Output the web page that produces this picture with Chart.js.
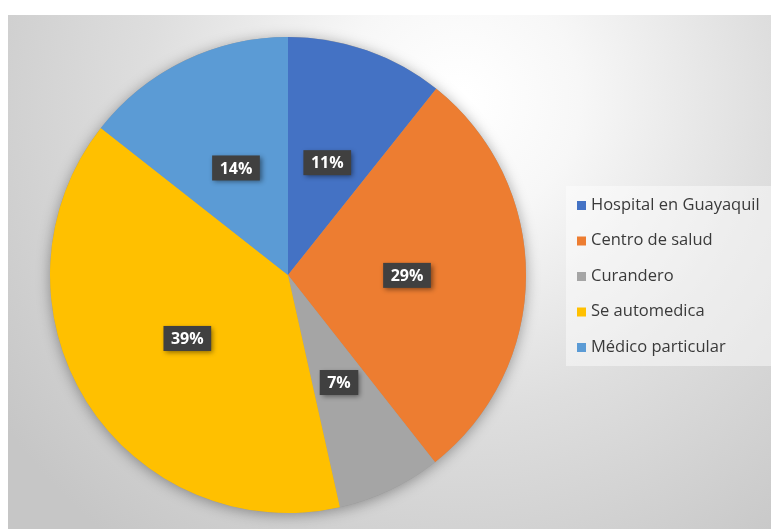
<!DOCTYPE html>
<html>
<head>
<meta charset="utf-8">
<script src="https://cdn.jsdelivr.net/npm/chart.js@4.4.1/dist/chart.umd.min.js"></script>
<style>
  html, body { margin: 0; padding: 0; background: #fff; }
  #wrap { position: relative; width: 771px; height: 529px; }
</style>
</head>
<body>
<div id="wrap"><canvas id="chart" width="771" height="529"></canvas></div>
<script>

/* ------------------------------------------------ */

let labels = ['Hospital en Guayaquil', 'Centro de salud', 'Curandero', 'Se automedica', 'Médico particular'];
// shares; labels show them rounded
let values = [10.7, 28.7, 7.1, 39.1, 14.4];
let colors = ['#4472C4', '#ED7D31', '#A5A5A5', '#FFC000', '#5B9BD5'];

/* ------------------------------------------------ */

// radial grey background, white strip along the top and left
let backgroundPlugin = {
  id: 'bg',
  beforeDraw(chart) {
    let ctx = chart.ctx;
    ctx.save();
    ctx.fillStyle = '#ffffff';
    ctx.fillRect(0, 0, chart.width, chart.height);
    let g = ctx.createRadialGradient(460, 100, 10, 460, 100, 560);
    g.addColorStop(0, '#ffffff');
    g.addColorStop(0.2, '#f7f7f7');
    g.addColorStop(0.55, '#dedede');
    g.addColorStop(1, '#c6c6c6');
    ctx.fillStyle = g;
    ctx.fillRect(8, 15, chart.width - 8, chart.height - 15);
    ctx.restore();
  },
  beforeDatasetsDraw(chart) {
    // soft shadow under the pie
    let ctx = chart.ctx;
    let arc = chart.getDatasetMeta(0).data[0];
    ctx.save();
    ctx.shadowColor = 'rgba(0,0,0,0.35)';
    ctx.shadowBlur = 14;
    ctx.shadowOffsetY = 2;
    ctx.fillStyle = '#999';
    ctx.beginPath();
    ctx.arc(arc.x, arc.y, arc.outerRadius, 0, Math.PI * 2);
    ctx.fill();
    ctx.restore();
  },
};

// dark boxed percentage labels at the middle of each slice
let labelPlugin = {
  id: 'sliceLabels',
  afterDatasetsDraw(chart) {
    let ctx = chart.ctx;
    let meta = chart.getDatasetMeta(0);
    let total = values.reduce((a, b) => a + b, 0);
    ctx.save();
    ctx.font = 'bold 16px "Open Sans", sans-serif';
    ctx.textAlign = 'center';
    ctx.textBaseline = 'middle';
    meta.data.forEach((arc, i) => {
      let pos = arc.tooltipPosition();
      let text = Math.round(values[i] / total * 100) + '%';
      let w = ctx.measureText(text).width + 15;
      let h = 25;
      ctx.save();
      ctx.shadowColor = 'rgba(0,0,0,0.45)';
      ctx.shadowBlur = 5;
      ctx.shadowOffsetX = 2;
      ctx.shadowOffsetY = 2;
      ctx.fillStyle = '#404040';
      ctx.fillRect(pos.x - w / 2, pos.y - h / 2, w, h);
      ctx.restore();
      ctx.fillStyle = '#ffffff';
      ctx.fillText(text, pos.x, pos.y + 1);
    });
    ctx.restore();
  },
};

// legend on the right, drawn by hand to keep Excel spacing
let legendPlugin = {
  id: 'sideLegend',
  afterDraw(chart) {
    let ctx = chart.ctx;
    ctx.save();
    ctx.fillStyle = 'rgba(255,255,255,0.45)';
    ctx.fillRect(566, 186, 205, 180);
    ctx.font = '16.5px "Open Sans", sans-serif';
    ctx.textBaseline = 'middle';
    chart.data.labels.forEach((label, i) => {
      let y = 205 + i * 35.5;
      ctx.fillStyle = chart.data.datasets[0].backgroundColor[i];
      ctx.fillRect(577, y - 4, 9, 9);
      ctx.fillStyle = '#3a3a3a';
      ctx.fillText(label, 591, y);
    });
    ctx.restore();
  },
};

/* ------------------------------------------------ */

let ctx = document.getElementById('chart').getContext('2d');
let chart = new Chart(ctx, {
  type: 'pie',
  data: {
    labels: labels,
    datasets: [{
      data: values,
      backgroundColor: colors,
      borderWidth: 0,
    }],
  },
  options: {
    responsive: false,
    animation: false,
    layout: {
      padding: { left: 50, right: 245, top: 37, bottom: 16 },
    },
    plugins: {
      legend: { display: false },
      tooltip: { enabled: false },
    },
  },
  plugins: [backgroundPlugin, labelPlugin, legendPlugin],
});

</script>
</body>
</html>
